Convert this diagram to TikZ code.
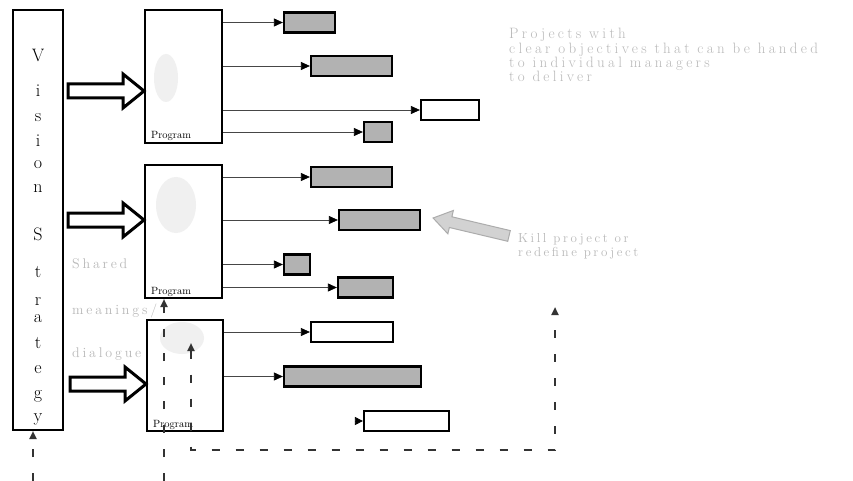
\documentclass[tikz,border=0pt]{standalone}
\usepackage{fontspec}
\usepackage{tikz}
\usetikzlibrary{arrows.meta,positioning}
\newfontfamily\notefont[LetterSpace=20]{Latin Modern Roman}
\newfontfamily\goalfont[LetterSpace=22]{Latin Modern Roman}

\tikzset{
  progbox/.style={draw,line width=2pt,fill=white,inner sep=0pt,minimum width=77,minimum height=133},
  projbox/.style={draw,line width=2.2pt,inner sep=0pt,minimum height=20},
  graybox/.style={projbox,fill=black!30},
  whitebox/.style={projbox,fill=white},
  link/.style={gray!55!black,line width=0.7pt,-{Triangle[length=9pt,width=8pt,color=black]}},
  feed/.style={gray!40!black,line width=2.2pt,dash pattern=on 8pt off 16pt,-{Triangle[length=8pt,width=7pt]}},
  hollow/.style={draw=black,line width=3pt,fill=white,line join=miter},
  note/.style={gray!55,font=\notefont\fontsize{14}{13}\selectfont,align=left,inner sep=0pt,anchor=base west},
  letter/.style={font=\fontsize{18}{18}\selectfont,inner sep=0pt,anchor=base},
  proglabel/.style={font=\fontsize{10.5}{10}\selectfont,inner sep=0pt,anchor=base west}
}

\begin{document}
\begin{tikzpicture}[x=1pt,y=-1pt]
  \useasboundingbox[fill=white] (0,0) rectangle (853,481);

  % vision / strategy column
  \node[draw,line width=2pt,inner sep=0pt,minimum width=50,minimum height=420] (vision) at (38,220) {};
  \foreach \c/\y [count=\i] in {V/62,i/97,s/122,i/147,o/168,n/193,S/240,t/277,r/305,a/322,t/348,e/373,g/398,y/421}
    \node[letter] (vs\i) at (38,\y) {\c};

  % programs
  \node[progbox] (prog1) at (183.5,76.5) {};
  \node[progbox] (prog2) at (183.5,231.5) {};
  \node[progbox,minimum width=76,minimum height=111] (prog3) at (185,375.5) {};
  \fill[gray!12] (166,78) ellipse (12 and 24);
  \fill[gray!12] (176,205) ellipse (20 and 28);
  \fill[gray!12] (182,338) ellipse (22 and 16);
  \foreach \p in {prog1,prog2,prog3}
    \node[proglabel] (\p lbl) at ([shift={(7,-5)}]\p.south west) {Program};

  % projects of program 1
  \node[graybox,minimum width=51] (p1a) at (309.5,22.5) {};
  \node[graybox,minimum width=81] (p1b) at (351.5,66) {};
  \node[whitebox,minimum width=58] (p1c) at (450,110) {};
  \node[graybox,minimum width=28] (p1d) at (378,132) {};
  % projects of program 2
  \node[graybox,minimum width=81] (p2a) at (351.5,177) {};
  \node[graybox,minimum width=81] (p2b) at (379.5,220) {};
  \node[graybox,minimum width=26] (p2c) at (297,264.5) {};
  \node[graybox,minimum width=55] (p2d) at (365.5,287.5) {};
  % projects of program 3
  \node[whitebox,minimum width=82] (p3a) at (352,332) {};
  \node[graybox,minimum width=137] (p3b) at (352.5,376.5) {};
  \node[whitebox,minimum width=85] (p3c) at (406.5,421) {};

  \foreach \p/\q in {prog1/p1a,prog1/p1b,prog1/p1c,prog1/p1d,prog2/p2a,prog2/p2b,prog2/p2c,prog2/p2d,prog3/p3a,prog3/p3b}
    \draw[link] (\p.east |- \q.west) -- (\q.west);
  \coordinate (p3cin) at ([xshift=-8]p3c.west);
  \draw[link,-{Triangle[length=8pt,width=8pt,color=black]}] (p3cin) -- (p3c.west);

  % broad arrows from vision into programs
  \foreach \p/\y in {prog1/91,prog2/220,prog3/384}
    \draw[hollow] (\p.west |- 0,\y) -- ++(-21,-17) -- ++(0,10) -- ++(-55,0) -- ++(0,14) -- ++(55,0) -- ++(0,10) -- cycle;

  % texts
  \node[note,font=\goalfont\fontsize{15}{13}\selectfont] (goal) at (509,82) {Projects with\\clear objectives that can be handed\\to individual managers\\to deliver};
  \node[note,font=\notefont\fontsize{13}{14}\selectfont] (kill) at (518,256) {Kill project or\\redefine project};
  \node[note] (shared) at (72,268) {Shared};
  \node[note] (meaning) at (72,314) {meanings/};
  \node[note] (dialog) at (72,357) {dialogue};

  % kill arrow
  \begin{scope}[shift={(p2b.east)},xshift=12,yshift=2,rotate=166.7]
    \draw[gray!65,fill=gray!35,line width=1pt] (0,0) -- (-18,12) -- (-18,5.5) -- (-78,5.5) -- (-78,-5.5) -- (-18,-5.5) -- (-18,-12) -- cycle;
  \end{scope}

  % feedback loops
  \coordinate (vsfoot) at (33,481);
  \coordinate (pgfoot) at (164,481);
  \draw[feed] (vsfoot) -- (vsfoot |- vision.south);
  \draw[feed] (pgfoot) -- (pgfoot |- prog2.south);
  \coordinate (loopa) at (191,343);
  \coordinate (loopb) at (555,307);
  \draw[feed,{Triangle[length=8pt,width=7pt]}-{Triangle[length=8pt,width=7pt]}] (loopa) -- (191,450) -- (555,450) -- (loopb);
\end{tikzpicture}
\end{document}
